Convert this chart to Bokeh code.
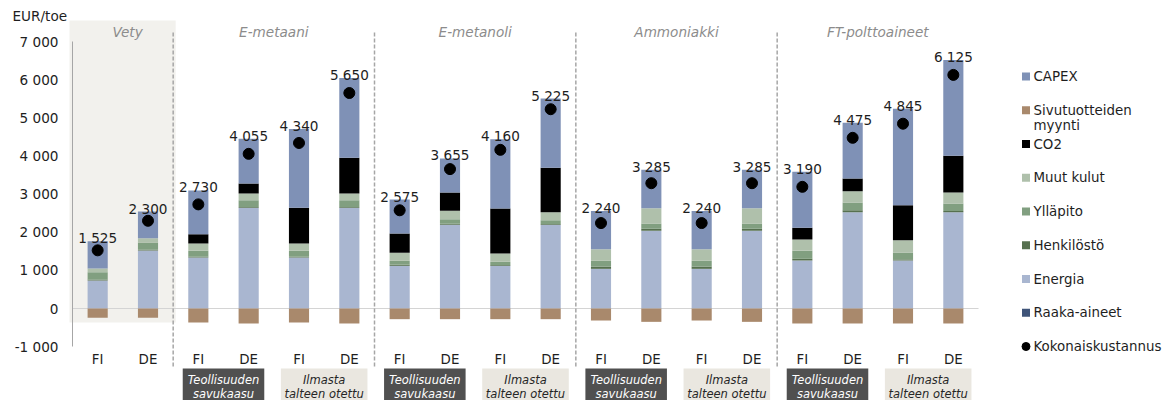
from bokeh.plotting import figure
from bokeh.models import Range1d, FixedTicker, ColumnDataSource
from bokeh.core.properties import value
from bokeh.embed import file_html
from bokeh.resources import INLINE

# ---------------- data ----------------
groups = ["Vety", "E-metaani", "E-metanoli", "Ammoniakki", "FT-polttoaineet"]
group_sizes = [2, 4, 4, 4, 4]
countries = ["FI", "DE",
             "FI", "DE", "FI", "DE",
             "FI", "DE", "FI", "DE",
             "FI", "DE", "FI", "DE",
             "FI", "DE", "FI", "DE"]
co2_sources = ["Teollisuuden\nsavukaasu", "Ilmasta\ntalteen otettu"]

raaka_aineet = [0, 0, 0, 0, 0, 0, 0, 0, 0, 0, 0, 0, 0, 0, 0, 0, 0, 0]
energia = [734, 1520, 1337, 2640, 1337, 2640, 1119, 2194, 1119, 2194,
           1040, 2037, 1040, 2037, 1259, 2526, 1259, 2526]
henkilosto = [20, 20, 20, 20, 20, 20, 30, 30, 20, 20,
              60, 52, 60, 52, 43, 53, 30, 30]
yllapito = [196, 190, 155, 181, 155, 181, 101, 119, 85, 103,
            150, 140, 150, 140, 210, 201, 180, 197]
muut_kulut = [100, 110, 193, 175, 193, 175, 210, 218, 218, 209,
              306, 402, 306, 402, 297, 297, 323, 289]
co2 = [0, 0, 245, 262, 935, 935, 507, 481, 1180, 1163,
       0, 0, 0, 0, 306, 332, 918, 961]
capex = [715, 700, 1145, 1170, 2067, 2092, 888, 893, 1818, 1816,
         999, 1004, 999, 1004, 1468, 1459, 2528, 2515]
sivutuotteet = [-240, -240, -365, -393, -367, -393, -280, -280, -280, -280,
                -315, -350, -315, -350, -393, -393, -393, -393]
kokonais = [1525, 2300, 2730, 4055, 4340, 5650, 2575, 3655, 4160, 5225,
            2240, 3285, 2240, 3285, 3190, 4475, 4845, 6125]
y_ticks = [-1000, 0, 1000, 2000, 3000, 4000, 5000, 6000, 7000]
unit_label = "EUR/toe"

legend_labels = ["CAPEX", "Sivutuotteiden\nmyynti", "CO2", "Muut kulut", "Ylläpito",
                 "Henkilöstö", "Energia", "Raaka-aineet", "Kokonaiskustannus"]

# ---------------- style ----------------
C_RAAKA = "#3f5479"
C_ENERGIA = "#a9b6d0"
C_HENK = "#56704f"
C_YLLA = "#819f80"
C_MUUT = "#afc0ab"
C_CO2 = "#000000"
C_CAPEX = "#7f91b6"
C_SIVU = "#a9896c"
FONT = value("DejaVu Sans")
TXT = "#1e1e1e"

W, H = 1170, 400
LEFT = 72                  # pixel position of the value axis
UNIT = 906 / 18.0          # px per category
PX_PER_K = 38.14           # px per 1000
ZERO_PX = 308


def dx(px):
    return (px - LEFT) / UNIT


def dy(py):
    return (ZERO_PX - py) / PX_PER_K * 1000.0


n = len(countries)
xs = [i + 0.5 for i in range(n)]

p = figure(width=W, height=H, output_backend="svg", toolbar_location=None,
           x_range=Range1d(dx(0), dx(W)),
           y_range=Range1d(dy(H), dy(0)),
           x_axis_location=None, y_axis_location="left",
           min_border_left=0, min_border_right=0, min_border_top=0, min_border_bottom=0)
p.outline_line_color = None
p.grid.visible = False
p.background_fill_color = "white"
p.border_fill_color = "white"

# y axis, pinned at the start of the category area
ya = p.yaxis[0]
ya.fixed_location = 0
ya.ticker = FixedTicker(ticks=y_ticks)
ya.bounds = (min(y_ticks), max(y_ticks))
ya.major_label_overrides = {t: f"{t:,}".replace(",", " ") for t in y_ticks}
ya.major_tick_out = 0
ya.major_tick_in = 0
ya.minor_tick_out = 0
ya.minor_tick_in = 0
ya.major_label_standoff = 14
ya.axis_line_color = "#a6a6a6"
ya.major_label_text_font = "DejaVu Sans"
ya.major_label_text_font_size = "13.6px"
ya.major_label_text_color = TXT

# group boundaries
bounds = []
acc = 0
for s in group_sizes:
    bounds.append((acc, acc + s))
    acc += s

# Vety shaded background
p.quad(left=[dx(69)], right=[bounds[0][1] + 0.05], top=[dy(20)], bottom=[dy(322)],
       fill_color="#f2f1ed", line_color=None, level="underlay")

# zero line
p.segment(x0=[0], x1=[n], y0=[0], y1=[0], line_color="#d4d4d4", line_width=1.2)

# separators
seps = [b[0] for b in bounds[1:]]
p.segment(x0=seps, x1=seps, y0=[dy(32)] * len(seps), y1=[dy(366)] * len(seps),
          line_color="#a6a6a6", line_width=1.5, line_dash="4 2")

# bars
src = ColumnDataSource(dict(x=xs, raaka=raaka_aineet, energia=energia, henk=henkilosto,
                            ylla=yllapito, muut=muut_kulut, co2=co2, capex=capex,
                            sivu=sivutuotteet, total=kokonais))
stack = ["raaka", "energia", "henk", "ylla", "muut", "co2", "capex"]
colors = [C_RAAKA, C_ENERGIA, C_HENK, C_YLLA, C_MUUT, C_CO2, C_CAPEX]
p.vbar_stack(stack, x="x", width=0.4, color=colors, line_color=None, source=src)
p.vbar(x="x", top=0, bottom="sivu", width=0.4, fill_color=C_SIVU, line_color=None, source=src)

# total dots
p.scatter(x="x", y="total", size=11, marker="circle", fill_color="black", line_color="black", source=src)

# value labels above stack tops
tops = [raaka_aineet[i] + energia[i] + henkilosto[i] + yllapito[i] + muut_kulut[i] + co2[i] + capex[i]
        for i in range(n)]
labels = [f"{t:,}".replace(",", " ") for t in kokonais]
p.text(x=xs, y=tops, text=labels, text_align="center", text_baseline="alphabetic",
       y_offset=-3, text_font=FONT, text_font_size="13.6px", text_color=TXT)

# group titles
gx = [(a + b) / 2 for a, b in bounds]
gx[0] = (dx(69) + bounds[0][1] + 0.05) / 2 + 0.1
p.text(x=gx, y=[dy(31)] * len(groups), text=groups, text_align="center", text_baseline="middle",
       text_font=FONT, text_font_style="italic", text_font_size="13.6px", text_color="#8c8c8c")

# country labels
p.text(x=xs, y=[dy(359)] * n, text=countries, text_align="center", text_baseline="middle",
       text_font=FONT, text_font_size="13.4px", text_color=TXT)

# CO2 source boxes
box_x, box_w, box_fill, box_txt, box_t1, box_t2 = [], [], [], [], [], []
for a, b in bounds[1:]:
    for k in range(2):
        cx = a + 2 * k + 1
        box_x.append(cx)
        box_w.append(1.62 if k == 0 else 1.72)
        box_fill.append("#505050" if k == 0 else "#eae7e0")
        box_txt.append("white" if k == 0 else "#262626")
        l1, l2 = co2_sources[k].split("\n")
        box_t1.append(l1)
        box_t2.append(l2)
btop = dy(368)
bbot = dy(H + 20)
p.rect(x=box_x, y=[(btop + bbot) / 2] * len(box_x), width=box_w, height=[btop - bbot] * len(box_x),
       fill_color=box_fill, line_color=None)
p.text(x=box_x, y=[dy(379)] * len(box_x), text=box_t1, text_align="center", text_baseline="middle",
       text_font=FONT, text_font_style="italic", text_font_size="11.5px", text_color=box_txt)
p.text(x=box_x, y=[dy(393)] * len(box_x), text=box_t2, text_align="center", text_baseline="middle",
       text_font=FONT, text_font_style="italic", text_font_size="11.5px", text_color=box_txt)

# legend (manual)
leg_colors = [C_CAPEX, C_SIVU, C_CO2, C_MUUT, C_YLLA, C_HENK, C_ENERGIA, C_RAAKA, "black"]
lx_mark = dx(1025.5)
lx_text = dx(1033)
ly = [dy(76 + 33.75 * k) for k in range(len(legend_labels))]
p.rect(x=[lx_mark] * 8, y=ly[:8], width=8, height=8, width_units="screen", height_units="screen",
       fill_color=leg_colors[:8], line_color=None)
p.scatter(x=[lx_mark], y=[ly[8]], size=8, marker="circle", fill_color="black", line_color="black")
lt, lyy = [], []
for k, lab in enumerate(legend_labels):
    for j, line in enumerate(lab.split("\n")):
        lt.append(line)
        lyy.append(dy(76 + 33.75 * k + 15.5 * j))
p.text(x=[lx_text] * len(lt), y=lyy, text=lt, text_align="left", text_baseline="middle",
       text_font=FONT, text_font_size="13.4px", text_color=TXT)

# unit label
p.text(x=[dx(12)], y=[dy(15)], text=[unit_label], text_align="left", text_baseline="middle",
       text_font=FONT, text_font_size="13.6px", text_color=TXT)

open("out.html", "w").write(file_html(p, INLINE))
